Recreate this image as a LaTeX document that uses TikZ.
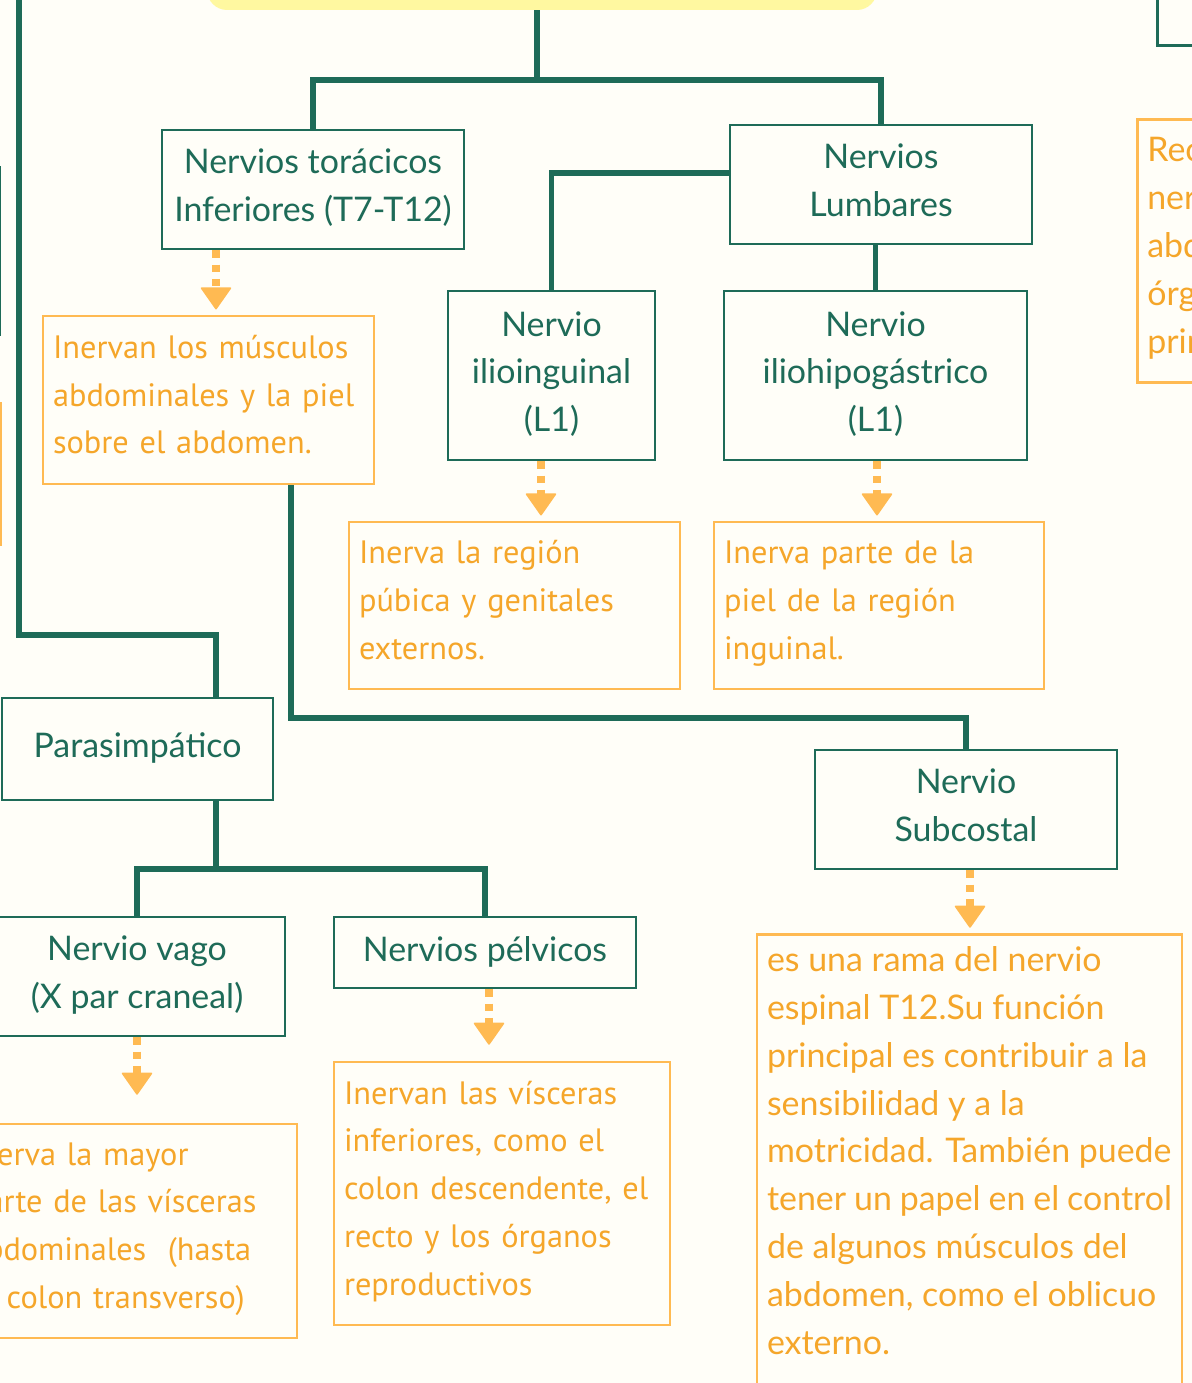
\documentclass[tikz,border=0pt]{standalone}
\usepackage{fontspec}
\setmainfont{Lato}
\newfontfamily\estrecha{PT Sans}
\usetikzlibrary{arrows.meta}
\definecolor{verde}{RGB}{30,107,88}
\definecolor{naranja}{RGB}{245,166,42}
\definecolor{borde}{RGB}{255,186,82}
\definecolor{fondo}{RGB}{255,254,248}
\definecolor{amarillo}{RGB}{255,248,160}

\begin{document}
\begin{tikzpicture}[x=0.02cm, y=-0.02cm,
    font=\fontsize{19.3}{27.2}\selectfont,
    caja/.style={draw=verde, line width=1.5pt, fill=fondo, text=verde, align=center, inner sep=0pt,
        execute at end node={\rule[-0.16cm]{0pt}{0pt}}},
    nota/.style={draw=borde, line width=1.5pt, fill=fondo, text=naranja, align=left, inner sep=0.2cm,
        font=\estrecha\fontsize{18.4}{27.2}\selectfont, execute at end node={\rule[-0.22cm]{0pt}{0pt}}},
    rama/.style={draw=verde, line width=3.3pt},
    flecha/.style={draw=borde, line width=4.5pt, dash pattern=on 4.3pt off 3.8pt,
        -{Triangle[width=18pt, length=13pt, line width=1pt, round]}, shorten >=3pt}]
            \useasboundingbox (0,0) rectangle (1192,1383);
            \fill[fondo] (0,0) rectangle (1192,1383);
            \clip (0,0) rectangle (1192,1383);

            % Nodes
            \node[fill=amarillo, rounded corners=0.4cm, minimum width=13.4cm, minimum height=1cm] (titulo) at (542,-15) {};
            \node[caja, minimum width=2cm, minimum height=2cm, anchor=south west] (arribader) at (1156,47) {};
            \node[caja, minimum width=2cm, minimum height=3.36cm, anchor=east] (izqverde) at (1,251) {};
            \node[nota, minimum width=2cm, minimum height=2.84cm, anchor=east] (izqnaranja) at (2,474) {};
            \node[nota, font=\fontsize{19.3}{27.2}\selectfont, text width=3cm, minimum height=5.26cm, anchor=north west] (recibe) at (1136,118) {Rec\\ner\\abd\\órg\\prin};

            \node[caja, minimum width=6.04cm, minimum height=2.38cm] (toracicos) at (313,189.5) {Nervios torácicos\\Inferiores (T7-T12)};
            \node[caja, minimum width=6.04cm, minimum height=2.38cm] (lumbares) at (881,184.5) {Nervios\\Lumbares};
            \node[caja, minimum width=4.14cm, minimum height=3.38cm] (ilioing) at (551.5,375.5) {Nervio\\ilioinguinal\\(L1)};
            \node[caja, minimum width=6.06cm, minimum height=3.38cm] (iliohip) at (875.5,375.5) {Nervio\\iliohipogástrico\\(L1)};
            \node[caja, minimum width=5.42cm, minimum height=2.04cm] (parasimp) at (137.5,749) {Parasimpático};
            \node[caja, minimum width=6.04cm, minimum height=2.38cm] (subcostal) at (966,809.5) {Nervio\\Subcostal};
            \node[caja, minimum width=5.92cm, minimum height=2.38cm] (vago) at (137,976.5) {Nervio vago\\(X par craneal)};
            \node[caja, minimum width=6.04cm, minimum height=1.42cm] (pelvicos) at (485,952.5) {Nervios pélvicos};

            \node[nota, text width=6.22cm, minimum height=3.36cm] (musculos) at (208.5,400) {Inervan los músculos\\abdominales y la piel\\sobre el abdomen.};
            \node[nota, text width=6.22cm, minimum height=3.34cm] (region) at (514.5,605.5) {Inerva la región\\púbica y genitales\\externos.};
            \node[nota, text width=6.2cm, minimum height=3.34cm] (piel) at (879,605.5) {Inerva parte de la\\piel de la región\\inguinal.};
            \node[nota, text width=6.34cm, minimum height=4.28cm] (mayor) at (128.5,1231) {Inerva la mayor\\parte de las vísceras\\abdominales~ (hasta\\el colon transverso)};
            \node[nota, text width=6.32cm, minimum height=5.26cm] (visceras) at (502,1193.5) {Inervan las vísceras\\inferiores, como el\\colon descendente, el\\recto y los órganos\\reproductivos};
            \node[nota, font=\fontsize{19.3}{27.2}\selectfont, anchor=north, inner ysep=0.25cm] (funcion) at (969.5,933) {\begin{minipage}[t][9.3cm][t]{8.1cm}\raggedright
                es una rama del nervio\\espinal T12.Su función\\principal es contribuir a la\\sensibilidad y a la\\motricidad. También puede\\tener un papel en el control\\de algunos músculos del\\abdomen, como el oblicuo\\externo.\end{minipage}};

            \coordinate (izq) at (19,-10);

            % Lines
            \draw[rama] (537,0 |- titulo.south) -- (537,80);
            \draw[rama] (toracicos.north) |- (537,80) -| (lumbares.north);
            \draw[rama] ([yshift=0.23cm]lumbares.west) -| (ilioing.north);
            \draw[rama] (iliohip.north |- lumbares.south) -- (iliohip.north);
            \draw[rama] (291,0 |- musculos.south) -- (291,718) -| (subcostal.north);
            \draw[rama] (izq) |- (216,635) -- (216,0 |- parasimp.north);
            \draw[rama] (216,0 |- parasimp.south) -- (216,869);
            \draw[rama] (vago.north) |- (216,869) -| (pelvicos.north);

            % Arrows
            \draw[flecha] (216,0 |- toracicos.south) -- (216,0 |- musculos.north);
            \draw[flecha] (541,0 |- ilioing.south) -- (541,0 |- region.north);
            \draw[flecha] (877,0 |- iliohip.south) -- (877,0 |- piel.north);
            \draw[flecha] (970,0 |- subcostal.south) -- (970,0 |- funcion.north);
            \draw[flecha, shorten >=0.56cm] (137,0 |- vago.south) -- (137,0 |- mayor.north);
            \draw[flecha, shorten >=0.32cm] (489,0 |- pelvicos.south) -- (489,0 |- visceras.north);
        \end{tikzpicture}
\end{document}
